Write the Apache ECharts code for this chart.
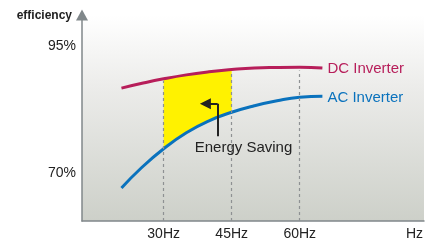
<!DOCTYPE html>
<html>
<head>
<meta charset="utf-8">
<script src="https://cdn.jsdelivr.net/npm/echarts@6/dist/echarts.min.js"></script>
<style>html,body{margin:0;padding:0;background:#fff;}#c{width:426px;height:243px;}</style>
</head>
<body>
<div id="c"></div>
<script>
// ---- data ----
const hz = [20.7, 25, 30, 35, 40, 45, 50, 55, 60, 65];
const dcInverter = [86.76, 87.65, 88.58, 89.36, 89.95, 90.39, 90.71, 90.82, 90.86, 90.71];
const acInverter = [67.16, 71.04, 74.86, 78.0, 80.35, 82.02, 83.29, 84.27, 84.96, 85.16];
const savingRange = [30, 45];
const guideHz = [30, 45, 60];
const guideTop = [88.2, 90.1, 90.2];
const xTickValues = [30, 45, 60];
const yTickValues = [70, 95];
const seriesNames = ['DC Inverter', 'AC Inverter'];
const annotationText = 'Energy Saving';
const annotationLine = [[41.9, 77.3], [41.9, 83.7]];
const annotationArrow = [[41.9, 83.7], [39.2, 83.7]];
const annotationTextPos = [47.6, 75.0];

const FONT = "'Liberation Sans',Arial,sans-serif";
const DC_COLOR = '#b71e5a';
const AC_COLOR = '#0a72bd';

const pairs = (xs, ys) => xs.map((x, i) => [x, ys[i]]);
const sIdx = hz.map((x, i) => i).filter(i => hz[i] >= savingRange[0] && hz[i] <= savingRange[1]);
// stored as [value, hz] so that the stack runs on the y values
const fillLow = sIdx.map(i => [acInverter[i], hz[i]]);
const fillBand = sIdx.map(i => [dcInverter[i] - acInverter[i], hz[i]]);

const chart = echarts.init(document.getElementById('c'), null, {renderer: 'canvas'});
chart.setOption({
  animation: false,
  textStyle: {fontFamily: FONT},
  grid: {
    left: 82, right: 0, top: 15, bottom: 22, show: true, borderWidth: 0,
    backgroundColor: {type: 'linear', x: 0, y: 0, x2: 0, y2: 1, colorStops: [
      {offset: 0, color: '#ffffff'}, {offset: 0.35, color: '#ececea'}, {offset: 1, color: '#cdd0c9'}]}
  },
  xAxis: {
    type: 'value', min: 12, max: 87.4,
    name: 'Hz', nameLocation: 'end', nameGap: -1,
    nameTextStyle: {fontFamily: FONT, fontSize: 14, color: '#222', align: 'right', verticalAlign: 'top', padding: [6, 0, 0, 0]},
    axisLine: {show: true, lineStyle: {color: '#80878a', width: 1.5}},
    axisTick: {show: false}, splitLine: {show: false},
    axisLabel: {customValues: xTickValues, formatter: v => v + 'Hz', fontFamily: FONT, fontSize: 14, color: '#222', margin: 6}
  },
  yAxis: {
    type: 'value', min: 60.7, max: 101.1,
    name: 'efficiency', nameLocation: 'end', nameGap: -1,
    nameTextStyle: {fontFamily: FONT, fontSize: 12, fontWeight: 'bold', color: '#222', align: 'right', verticalAlign: 'middle', padding: [0, 10, 0, 0]},
    axisLine: {show: true, symbol: ['none', 'triangle'], symbolSize: [12, 11], lineStyle: {color: '#80878a', width: 1.5}},
    axisTick: {show: false}, splitLine: {show: false},
    axisLabel: {customValues: yTickValues, formatter: v => v + '%', fontFamily: FONT, fontSize: 14, color: '#222', margin: 6}
  },
  series: [
    {
      name: 'fillLow', type: 'line', data: fillLow, encode: {x: 1, y: 0}, stack: 'save', smooth: true,
      symbol: 'none', lineStyle: {opacity: 0}, silent: true, z: 1
    },
    {
      name: 'fillBand', type: 'line', data: fillBand, encode: {x: 1, y: 0}, stack: 'save', smooth: true,
      symbol: 'none', lineStyle: {opacity: 0}, areaStyle: {color: '#fff200', opacity: 1}, silent: true, z: 1
    },
    {
      name: 'guides', type: 'line', data: pairs(guideHz, guideTop), symbol: 'none', lineStyle: {opacity: 0}, z: 2,
      markLine: {
        silent: true, symbol: ['none', 'none'], animation: false,
        lineStyle: {color: '#8e9193', type: [3, 3], width: 1.2},
        label: {show: false},
        data: guideHz.map((x, i) => [{coord: [x, 60.7]}, {coord: [x, guideTop[i]]}])
      }
    },
    {
      name: seriesNames[0], type: 'line', data: pairs(hz, dcInverter), smooth: true,
      symbol: 'none', lineStyle: {color: DC_COLOR, width: 3}, z: 3,
      endLabel: {show: true, formatter: '{a}', color: DC_COLOR, fontFamily: FONT, fontSize: 15, distance: 5, offset: [0, 1]}
    },
    {
      name: seriesNames[1], type: 'line', data: pairs(hz, acInverter), smooth: true,
      symbol: 'none', lineStyle: {color: AC_COLOR, width: 3}, z: 3,
      endLabel: {show: true, formatter: '{a}', color: AC_COLOR, fontFamily: FONT, fontSize: 15, distance: 5, offset: [0, 2]}
    },
    {
      name: 'annotation', type: 'line', data: [annotationTextPos], symbol: 'none', lineStyle: {opacity: 0}, z: 4,
      markLine: {
        silent: true, animation: false, label: {show: false},
        lineStyle: {color: '#222', type: 'solid', width: 2},
        data: [
          [{coord: annotationLine[0], symbol: 'none'}, {coord: annotationLine[1], symbol: 'none'}],
          [{coord: annotationArrow[0], symbol: 'none'}, {coord: annotationArrow[1], symbol: 'triangle', symbolSize: [11, 11]}]
        ]
      },
      markPoint: {
        silent: true, animation: false, symbol: 'rect', symbolSize: 1, itemStyle: {color: 'rgba(0,0,0,0)'},
        label: {show: true, position: 'inside', formatter: annotationText, color: '#222', fontFamily: FONT, fontSize: 15},
        data: [{coord: annotationTextPos}]
      }
    }
  ]
});
</script>
</body>
</html>
